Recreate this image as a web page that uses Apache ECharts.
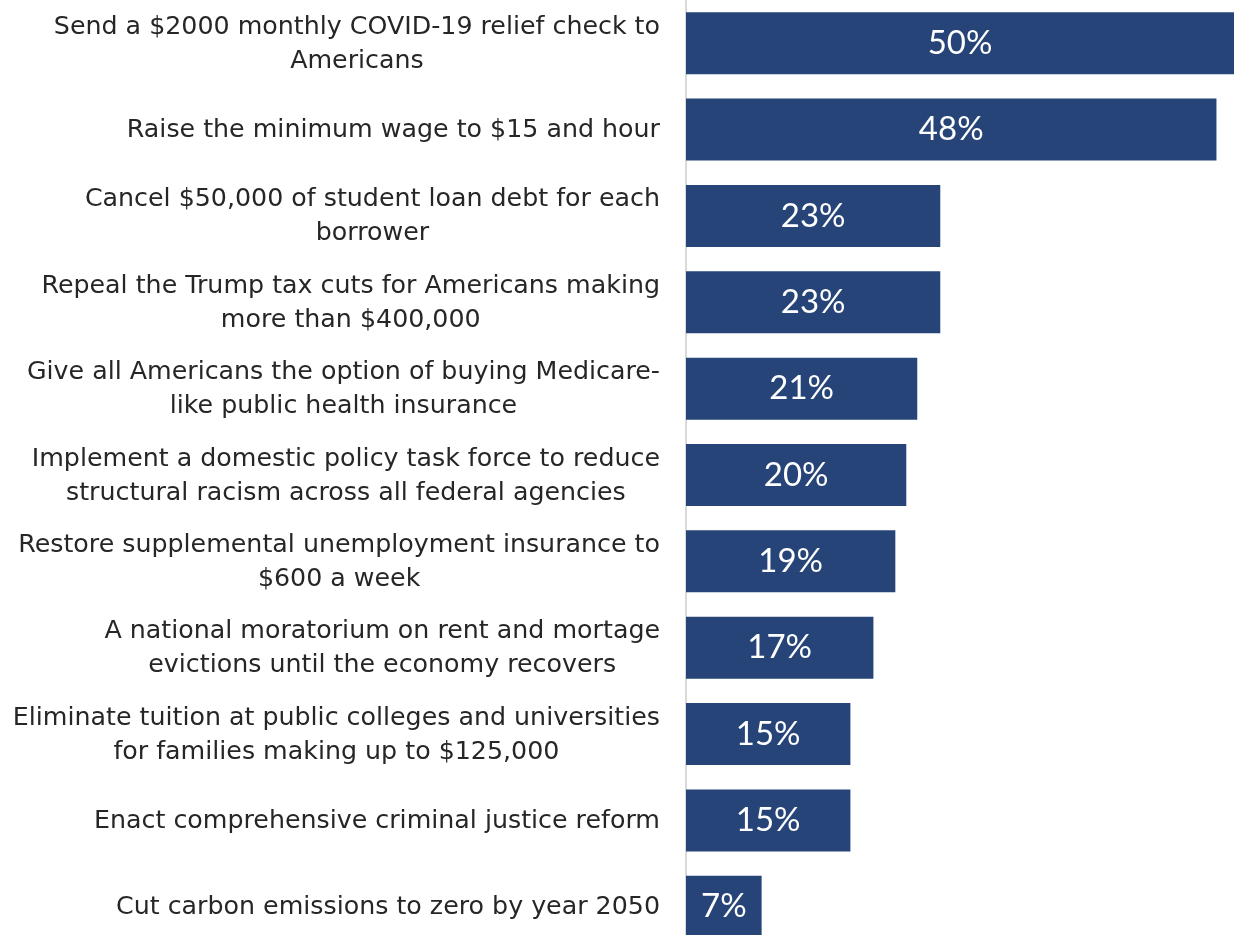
<!DOCTYPE html>
<html>
<head>
<meta charset="utf-8">
<script src="https://cdn.jsdelivr.net/npm/echarts@6/dist/echarts.min.js"></script>
<style>
  html, body { margin: 0; padding: 0; background: #fff; }
  #main { width: 1234px; height: 935px; }
</style>
</head>
<body>
<div id="main"></div>
<script>
// Policy items, top to bottom
let categories = [
    'Send a $2000 monthly COVID-19 relief check to\nAmericans',
    'Raise the minimum wage to $15 and hour',
    'Cancel $50,000 of student loan debt for each\nborrower',
    'Repeal the Trump tax cuts for Americans making\nmore than $400,000',
    'Give all Americans the option of buying Medicare-\nlike public health insurance',
    'Implement a domestic policy task force to reduce\nstructural racism across all federal agencies',
    'Restore supplemental unemployment insurance to\n$600 a week',
    'A national moratorium on rent and mortage\nevictions until the economy recovers',
    'Eliminate tuition at public colleges and universities\nfor families making up to $125,000',
    'Enact comprehensive criminal justice reform',
    'Cut carbon emissions to zero by year 2050'
];
// Share (%)
let values = [50, 48.4, 23.2, 23.2, 21.1, 20.1, 19.1, 17.1, 15.0, 15.0, 6.9];

let myChart = echarts.init(document.getElementById('main'));

let option = {
    animation: false,
    textStyle: {
        fontFamily: 'DejaVu Sans'
    },
    grid: {
        left: 686,
        right: 0,
        top: 0,
        height: 950,
        outerBoundsMode: 'none'
    },
    xAxis: {
        type: 'value',
        min: 0,
        max: 50,
        show: false
    },
    yAxis: {
        type: 'category',
        inverse: true,
        data: categories,
        axisLine: {
            show: true,
            lineStyle: { color: '#d9d9d9', width: 2 }
        },
        axisTick: { show: false },
        axisLabel: {
            margin: 26,
            color: '#262626',
            fontSize: 25.3,
            lineHeight: 34,
            align: 'right',
            // each line centred inside the right-aligned block
            formatter: (v) => v.split('\n').map((s) => '{c|' + s + '}').join('\n'),
            rich: {
                c: {
                    align: 'center',
                    color: '#262626',
                    fontSize: 25.3,
                    lineHeight: 34,
                    padding: [2, 0, 0, 0],
                    fontFamily: 'DejaVu Sans'
                }
            }
        }
    },
    series: [
        {
            type: 'bar',
            data: values,
            barWidth: 62,
            itemStyle: { color: '#264478' },
            label: {
                show: true,
                position: 'inside',
                color: '#ffffff',
                fontFamily: 'Lato',
                fontSize: 33,
                formatter: (p) => Math.round(p.value) + '%'
            }
        }
    ]
};

option && myChart.setOption(option);
</script>
</body>
</html>
